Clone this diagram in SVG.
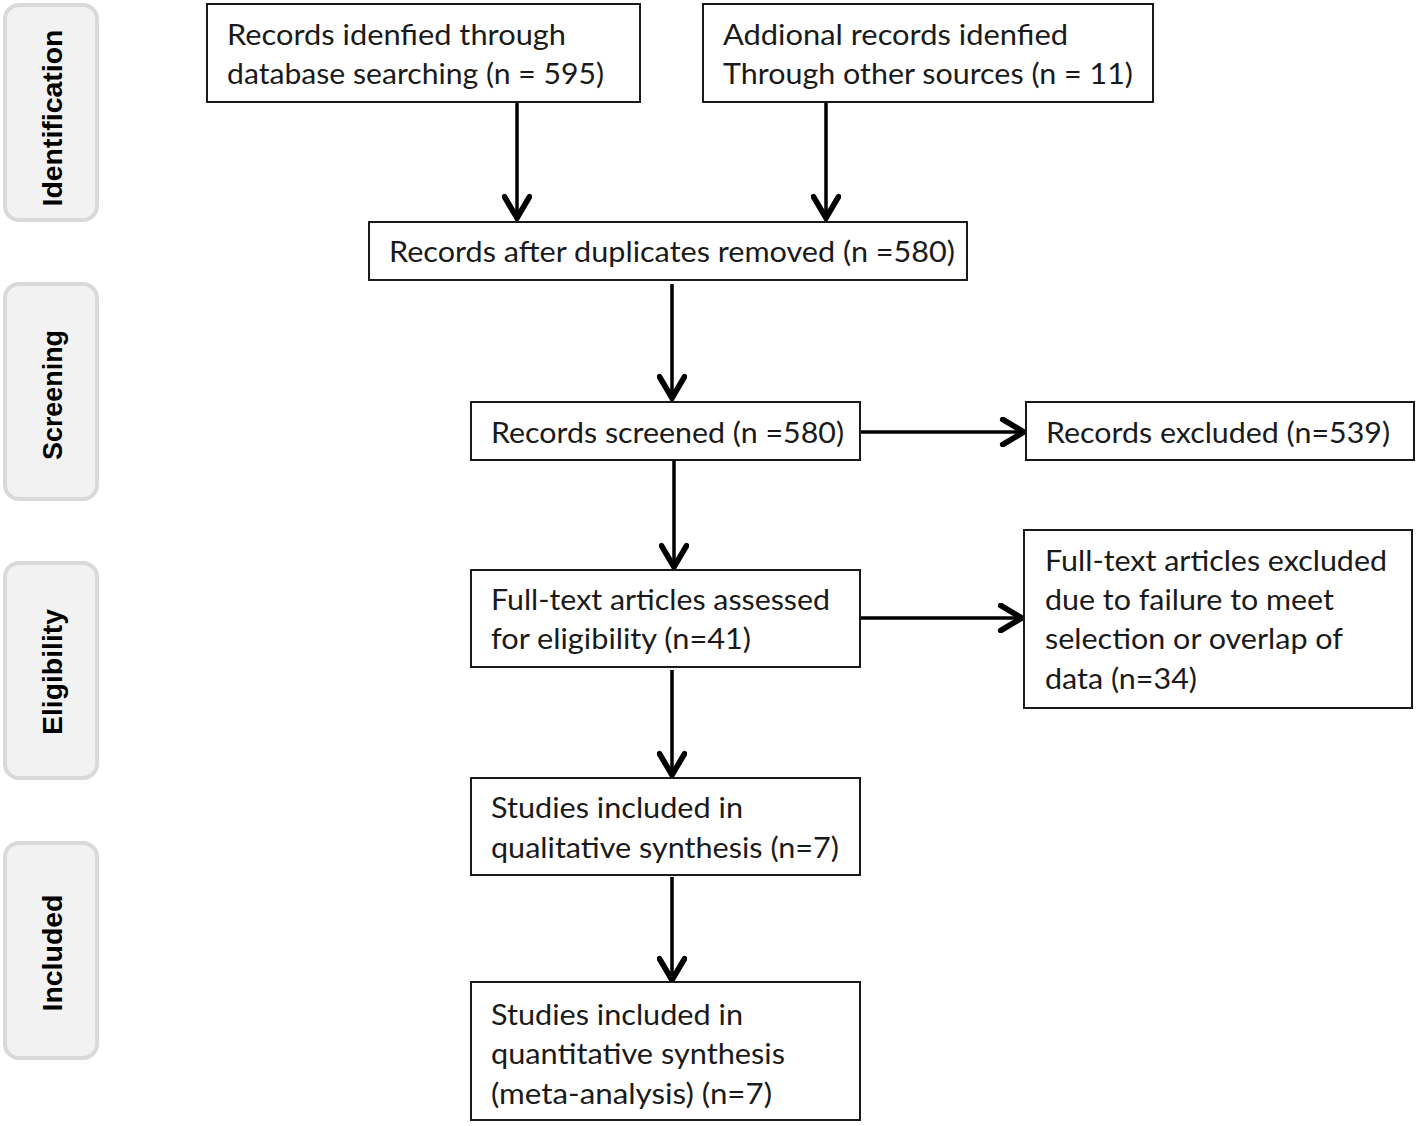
<svg xmlns="http://www.w3.org/2000/svg" width="1418" height="1126" viewBox="0 0 1418 1126">
<style>
.bg{fill:#ffffff}
.phase{fill:#f2f2f2;stroke:#d9d9d9;stroke-width:4}
.pl{font-family:"Liberation Sans",Arial,sans-serif;font-weight:bold;font-size:27px;fill:#000;text-anchor:middle}
.box{fill:#ffffff;stroke:#1a1a1a;stroke-width:2}
.t{font-family:Lato,"Liberation Sans",sans-serif;font-size:29px;fill:#1a1a1a}
.c{stroke:#000;stroke-width:3.5;fill:none}
</style>
<defs>
<marker id="arr" markerUnits="userSpaceOnUse" markerWidth="30" markerHeight="30" viewBox="-20 -12 24 24" refX="0" refY="0" orient="auto">
<path d="M-17,-10 L0,0 L-17,10" fill="none" stroke="#000" stroke-width="4.5" stroke-linejoin="miter" stroke-linecap="round"/>
</marker>
</defs>
<rect class="bg" width="1418" height="1126"/>

<g id="phase-identification"><rect class="phase" x="5" y="5" width="92" height="215" rx="14"/><text class="pl" transform="translate(62,118) rotate(-90)" textLength="177" lengthAdjust="spacingAndGlyphs">Identification</text></g>
<g id="phase-screening"><rect class="phase" x="5" y="284" width="92" height="215" rx="14"/><text class="pl" transform="translate(62,395) rotate(-90)" textLength="130" lengthAdjust="spacingAndGlyphs">Screening</text></g>
<g id="phase-eligibility"><rect class="phase" x="5" y="563" width="92" height="215" rx="14"/><text class="pl" transform="translate(62,672) rotate(-90)" textLength="126" lengthAdjust="spacingAndGlyphs">Eligibility</text></g>
<g id="phase-included"><rect class="phase" x="5" y="843" width="92" height="215" rx="14"/><text class="pl" transform="translate(62,953) rotate(-90)" textLength="117" lengthAdjust="spacingAndGlyphs">Included</text></g>

<g id="connectors">
<line class="c" x1="517" y1="103" x2="517" y2="218" marker-end="url(#arr)"/>
<line class="c" x1="826" y1="103" x2="826" y2="218" marker-end="url(#arr)"/>
<line class="c" x1="672" y1="284" x2="672" y2="398" marker-end="url(#arr)"/>
<line class="c" x1="861" y1="432" x2="1024" y2="432" marker-end="url(#arr)"/>
<line class="c" x1="674" y1="461" x2="674" y2="567" marker-end="url(#arr)"/>
<line class="c" x1="861" y1="618" x2="1022" y2="618" marker-end="url(#arr)"/>
<line class="c" x1="672" y1="670" x2="672" y2="775" marker-end="url(#arr)"/>
<line class="c" x1="672" y1="877" x2="672" y2="980" marker-end="url(#arr)"/>
</g>

<g id="n-database"><rect class="box" x="207" y="4" width="433" height="98"/>
<text class="t" x="227" y="45" textLength="339" lengthAdjust="spacingAndGlyphs">Records idenfied through</text>
<text class="t" x="227" y="84" textLength="377" lengthAdjust="spacingAndGlyphs">database searching (n = 595)</text></g>

<g id="n-other"><rect class="box" x="703" y="4" width="450" height="98"/>
<text class="t" x="723" y="45" textLength="345" lengthAdjust="spacingAndGlyphs">Addional records idenfied</text>
<text class="t" x="723" y="84" textLength="410" lengthAdjust="spacingAndGlyphs">Through other sources (n = 11)</text></g>

<g id="n-dedup"><rect class="box" x="369" y="222" width="598" height="58"/>
<text class="t" x="389" y="262" textLength="566" lengthAdjust="spacingAndGlyphs">Records after duplicates removed (n =580)</text></g>

<g id="n-screened"><rect class="box" x="471" y="402" width="389" height="58"/>
<text class="t" x="491" y="443" textLength="353" lengthAdjust="spacingAndGlyphs">Records screened (n =580)</text></g>

<g id="n-excluded"><rect class="box" x="1026" y="402" width="388" height="58"/>
<text class="t" x="1046" y="443" textLength="344" lengthAdjust="spacingAndGlyphs">Records excluded (n=539)</text></g>

<g id="n-fulltext"><rect class="box" x="471" y="570" width="389" height="97"/>
<text class="t" x="491" y="610" textLength="339" lengthAdjust="spacingAndGlyphs">Full-text articles assessed</text>
<text class="t" x="491" y="649" textLength="260" lengthAdjust="spacingAndGlyphs">for eligibility (n=41)</text></g>

<g id="n-ft-excluded"><rect class="box" x="1024" y="530" width="388" height="178"/>
<text class="t" x="1045" y="571" textLength="342" lengthAdjust="spacingAndGlyphs">Full-text articles excluded</text>
<text class="t" x="1045" y="610" textLength="289" lengthAdjust="spacingAndGlyphs">due to failure to meet</text>
<text class="t" x="1045" y="649" textLength="298" lengthAdjust="spacingAndGlyphs">selection or overlap of</text>
<text class="t" x="1045" y="689" textLength="152" lengthAdjust="spacingAndGlyphs">data (n=34)</text></g>

<g id="n-qualitative"><rect class="box" x="471" y="778" width="389" height="97"/>
<text class="t" x="491" y="818" textLength="252" lengthAdjust="spacingAndGlyphs">Studies included in</text>
<text class="t" x="491" y="858" textLength="348" lengthAdjust="spacingAndGlyphs">qualitative synthesis (n=7)</text></g>

<g id="n-quantitative"><rect class="box" x="471" y="982" width="389" height="138"/>
<text class="t" x="491" y="1025" textLength="252" lengthAdjust="spacingAndGlyphs">Studies included in</text>
<text class="t" x="491" y="1064" textLength="294" lengthAdjust="spacingAndGlyphs">quantitative synthesis</text>
<text class="t" x="491" y="1104" textLength="281" lengthAdjust="spacingAndGlyphs">(meta-analysis) (n=7)</text></g>
</svg>
